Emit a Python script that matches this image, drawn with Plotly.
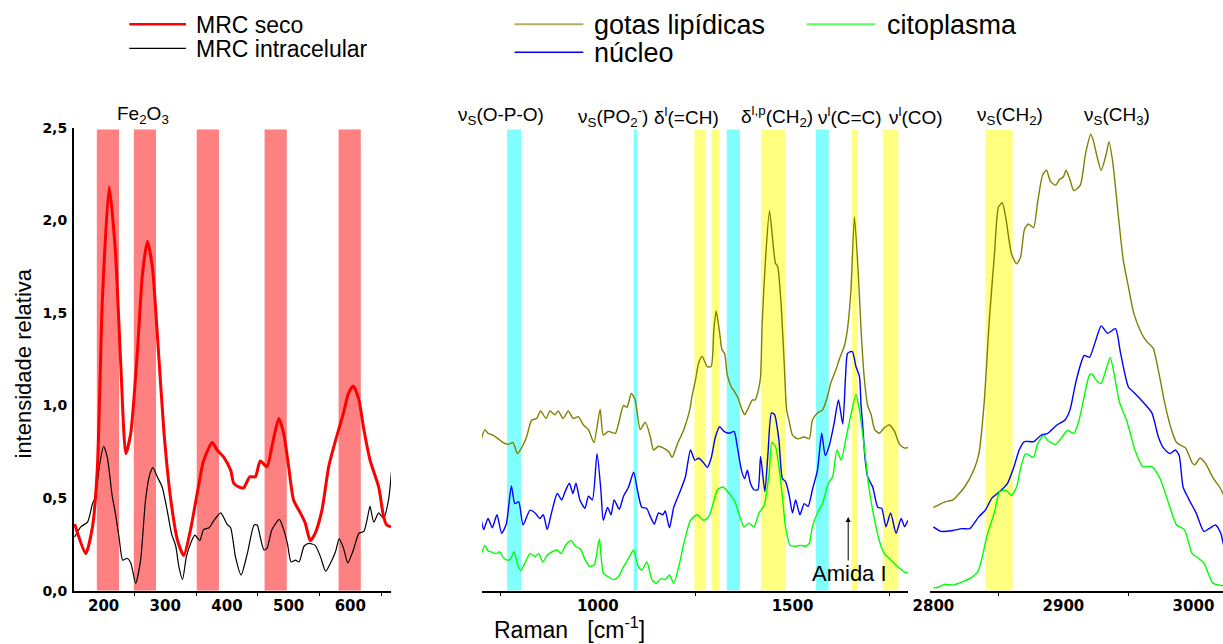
import plotly.graph_objects as go

# ---------------- data ----------------
seco_x = [153, 171, 182, 190, 198, 209, 219, 228, 236, 244, 255, 263, 271, 279, 287, 298, 309, 320, 330,
          341, 352, 362, 376, 384, 395, 406, 411, 419, 427, 437, 446, 454, 465, 473, 484, 492, 500, 508,
          519, 527, 535, 543, 554, 565, 576, 589, 597, 605, 614, 622, 632, 646, 654, 659, 666]
seco_y = [0.36, 0.20, 0.345, 0.67, 1.57, 2.18, 1.84, 1.21, 0.74, 0.85, 1.30, 1.71, 1.885, 1.75, 1.39, 0.85,
          0.49, 0.27, 0.19, 0.33, 0.53, 0.70, 0.80, 0.76, 0.72, 0.65, 0.58, 0.56, 0.555, 0.615, 0.615, 0.70,
          0.67, 0.78, 0.93, 0.85, 0.67, 0.49, 0.42, 0.365, 0.27, 0.31, 0.435, 0.67, 0.81, 0.96, 1.065, 1.105,
          1.03, 0.87, 0.705, 0.56, 0.40, 0.355, 0.345]

intra_x = [153, 163, 174, 182, 187, 193, 200, 206, 214, 219, 225, 231, 238, 244, 252, 260, 268, 275, 280,
           287, 295, 303, 310, 317, 322, 328, 334, 341, 348, 356, 362, 371, 379, 390, 400, 406, 414, 423,
           433, 444, 449, 454, 460, 465, 473, 485, 492, 498, 504, 511, 517, 525, 533, 543, 552, 560, 568,
           576, 582, 589, 596, 605, 614, 622, 627, 632, 638, 646, 654, 662, 667]
intra_y = [0.29, 0.345, 0.37, 0.47, 0.51, 0.67, 0.78, 0.72, 0.51, 0.42, 0.29, 0.165, 0.175, 0.15, 0.04,
           0.165, 0.49, 0.63, 0.665, 0.615, 0.56, 0.435, 0.31, 0.24, 0.13, 0.06, 0.18, 0.255, 0.30, 0.27,
           0.33, 0.34, 0.38, 0.42, 0.36, 0.34, 0.18, 0.085, 0.20, 0.355, 0.355, 0.29, 0.22, 0.23, 0.33,
           0.385, 0.33, 0.255, 0.155, 0.165, 0.155, 0.24, 0.255, 0.245, 0.18, 0.105, 0.15, 0.21, 0.28, 0.23,
           0.15, 0.22, 0.31, 0.32, 0.38, 0.455, 0.37, 0.42, 0.39, 0.49, 0.65]

lip_x = [701, 710, 718, 731, 744, 757, 770, 782, 794, 804, 817, 830, 843, 853, 867, 877, 890, 898, 911,
         924, 937, 950, 963, 976, 990, 1006, 1014, 1027, 1045, 1053, 1066, 1075, 1086, 1096, 1109, 1122,
         1135, 1143, 1156, 1169, 1182, 1191, 1204, 1221, 1236, 1242, 1251, 1259, 1268, 1281, 1291, 1298,
         1304, 1313, 1319, 1326, 1332, 1343, 1351, 1360, 1371, 1377, 1384, 1397, 1404, 1412, 1418, 1422,
         1431, 1441, 1456, 1462, 1470, 1478, 1485, 1491, 1500, 1513, 1530, 1543, 1551, 1564, 1577, 1590,
         1598, 1611, 1622, 1633, 1641, 1650, 1659, 1669, 1676, 1684, 1693, 1702, 1711, 1723, 1736, 1749,
         1762, 1775, 1788, 1800]
lip_y = [0.82, 0.87, 0.85, 0.84, 0.82, 0.80, 0.79, 0.80, 0.74, 0.77, 0.83, 0.92, 0.93, 0.97, 0.93, 0.97,
         0.95, 0.97, 0.93, 0.97, 0.93, 0.94, 0.895, 0.87, 0.80, 0.98, 0.84, 0.86, 0.85, 0.90, 1.00, 0.99,
         1.065, 1.03, 0.87, 0.91, 0.83, 0.76, 0.78, 0.77, 0.75, 0.72, 0.79, 0.87, 0.975, 1.05, 1.14, 1.23,
         1.265, 1.21, 1.21, 1.41, 1.51, 1.39, 1.30, 1.28, 1.17, 1.10, 1.075, 1.04, 0.975, 0.95, 0.975, 1.03,
         1.03, 1.08, 1.155, 1.44, 1.80, 2.05, 1.77, 1.75, 1.57, 1.26, 0.975, 0.92, 0.84, 0.82, 0.83, 0.82,
         0.92, 0.96, 0.975, 1.05, 1.12, 1.19, 1.26, 1.32, 1.41, 1.62, 2.02, 1.71, 1.41, 1.155, 1.0, 0.95,
         0.87, 0.85, 0.88, 0.895, 0.86, 0.79, 0.77, 0.775]

nuc_x = [701, 707, 718, 729, 741, 753, 765, 778, 787, 797, 808, 826, 839, 851, 860, 870, 881, 896, 907,
         916, 927, 936, 944, 954, 967, 976, 986, 998, 1008, 1014, 1025, 1034, 1042, 1055, 1066, 1079, 1092,
         1102, 1113, 1125, 1135, 1145, 1156, 1167, 1173, 1184, 1195, 1212, 1225, 1238, 1249, 1259, 1272,
         1281, 1291, 1302, 1313, 1324, 1337, 1350, 1358, 1369, 1377, 1384, 1392, 1401, 1411, 1418, 1429,
         1437, 1446, 1454, 1465, 1474, 1482, 1491, 1500, 1508, 1519, 1530, 1540, 1551, 1564, 1575, 1584,
         1594, 1607, 1618, 1629, 1636, 1641, 1647, 1654, 1663, 1672, 1676, 1680, 1686, 1693, 1706, 1719,
         1729, 1740, 1752, 1766, 1779, 1788, 1797, 1804]
nuc_y = [0.38, 0.33, 0.39, 0.34, 0.41, 0.31, 0.36, 0.565, 0.47, 0.48, 0.355, 0.435, 0.42, 0.39, 0.41, 0.33,
         0.42, 0.525, 0.49, 0.535, 0.58, 0.525, 0.58, 0.49, 0.445, 0.51, 0.49, 0.74, 0.54, 0.38, 0.45, 0.41,
         0.49, 0.44, 0.51, 0.56, 0.64, 0.54, 0.45, 0.445, 0.40, 0.36, 0.42, 0.41, 0.43, 0.34, 0.45, 0.54,
         0.615, 0.76, 0.705, 0.715, 0.69, 0.665, 0.715, 0.83, 0.885, 0.86, 0.85, 0.86, 0.78, 0.65, 0.605,
         0.65, 0.58, 0.545, 0.545, 0.725, 0.535, 0.74, 0.96, 0.95, 0.815, 0.605, 0.59, 0.52, 0.42, 0.49,
         0.41, 0.47, 0.455, 0.545, 0.65, 0.85, 0.73, 0.78, 0.905, 1.03, 0.90, 1.15, 1.28, 1.29, 1.29, 1.21,
         1.155, 1.0, 0.9, 0.72, 0.615, 0.56, 0.45, 0.445, 0.345, 0.42, 0.31, 0.39, 0.345, 0.38, 0.355]

cit_x = [701, 710, 718, 726, 739, 748, 757, 767, 775, 785, 794, 802, 813, 826, 839, 848, 859, 869, 882,
         895, 906, 917, 926, 933, 942, 955, 968, 979, 991, 1004, 1014, 1027, 1040, 1053, 1066, 1079, 1092,
         1102, 1113, 1126, 1139, 1150, 1162, 1173, 1184, 1195, 1208, 1221, 1238, 1255, 1272, 1285, 1296,
         1307, 1322, 1337, 1350, 1362, 1375, 1388, 1401, 1414, 1427, 1440, 1447, 1456, 1465, 1474, 1482,
         1494, 1508, 1521, 1534, 1543, 1551, 1564, 1577, 1592, 1603, 1614, 1625, 1638, 1651, 1663, 1672,
         1684, 1697, 1711, 1723, 1736, 1753, 1770, 1788, 1804]
cit_y = [0.20, 0.245, 0.215, 0.21, 0.20, 0.21, 0.18, 0.165, 0.17, 0.21, 0.14, 0.11, 0.15, 0.20, 0.185, 0.20,
         0.155, 0.19, 0.21, 0.22, 0.20, 0.245, 0.265, 0.27, 0.24, 0.225, 0.165, 0.13, 0.14, 0.28, 0.095,
         0.075, 0.06, 0.075, 0.13, 0.175, 0.22, 0.14, 0.11, 0.155, 0.06, 0.04, 0.065, 0.06, 0.085, 0.04,
         0.13, 0.255, 0.38, 0.41, 0.38, 0.40, 0.47, 0.545, 0.56, 0.525, 0.49, 0.42, 0.345, 0.365, 0.345,
         0.42, 0.46, 0.635, 0.80, 0.78, 0.67, 0.51, 0.345, 0.245, 0.24, 0.245, 0.24, 0.255, 0.345, 0.42,
         0.47, 0.58, 0.615, 0.76, 0.705, 0.83, 0.96, 1.06, 0.975, 0.78, 0.545, 0.38, 0.27, 0.20, 0.165,
         0.13, 0.10, 0.095]

ch_lip_x = [2800, 2809, 2815, 2824, 2831, 2835, 2839, 2843, 2847, 2850, 2853, 2856, 2860, 2864, 2867, 2870,
            2873, 2877, 2880, 2884, 2887, 2890, 2894, 2897, 2900, 2902, 2905, 2908, 2913, 2917, 2921, 2923,
            2926, 2929, 2933, 2935, 2938, 2942, 2946, 2950, 2954, 2960, 2964, 2969, 2973, 2978, 2983, 2987,
            2994, 2999, 3001, 3005, 3009, 3015, 3020, 3026]
ch_lip_y = [0.45, 0.48, 0.49, 0.56, 0.65, 0.74, 1.01, 1.46, 1.82, 2.07, 2.095, 2.00, 1.82, 1.765, 1.80, 1.95,
            1.98, 1.96, 2.09, 2.245, 2.27, 2.21, 2.19, 2.22, 2.235, 2.27, 2.22, 2.16, 2.19, 2.36, 2.465, 2.43,
            2.34, 2.27, 2.36, 2.425, 2.31, 2.04, 1.785, 1.64, 1.50, 1.39, 1.345, 1.31, 1.19, 1.01, 0.87, 0.80,
            0.77, 0.69, 0.68, 0.715, 0.69, 0.61, 0.56, 0.48]

ch_nuc_x = [2800, 2806, 2815, 2822, 2828, 2835, 2840, 2845, 2851, 2857, 2862, 2866, 2870, 2877, 2883, 2888,
            2895, 2901, 2905, 2910, 2916, 2920, 2925, 2929, 2934, 2940, 2944, 2950, 2955, 2961, 2968, 2973,
            2977, 2982, 2986, 2989, 2992, 2996, 3002, 3008, 3012, 3017, 3021, 3024, 3027]
ch_nuc_y = [0.345, 0.32, 0.325, 0.335, 0.335, 0.40, 0.435, 0.50, 0.535, 0.58, 0.67, 0.76, 0.805, 0.805,
            0.84, 0.85, 0.895, 0.92, 0.975, 1.14, 1.27, 1.26, 1.355, 1.43, 1.39, 1.415, 1.28, 1.10, 1.065,
            1.02, 0.96, 0.83, 0.77, 0.74, 0.76, 0.73, 0.56, 0.50, 0.42, 0.32, 0.335, 0.355, 0.31, 0.23, 0.22]

ch_cit_x = [2800, 2804, 2809, 2815, 2823, 2830, 2834, 2837.5, 2841, 2847, 2851, 2856, 2860, 2864, 2867, 2871,
            2877, 2880, 2885, 2888, 2894, 2899, 2903, 2908, 2912, 2916, 2920, 2922, 2926, 2929, 2933, 2936,
            2939, 2943, 2949, 2955, 2961, 2968, 2974, 2981, 2987, 2993, 2999, 3004, 3008, 3015, 3020, 3026]
ch_cit_y = [0.015, 0.02, 0.035, 0.03, 0.05, 0.075, 0.10, 0.18, 0.29, 0.425, 0.535, 0.54, 0.515, 0.56, 0.66,
            0.74, 0.72, 0.79, 0.84, 0.81, 0.79, 0.83, 0.865, 0.85, 0.92, 1.05, 1.165, 1.17, 1.13, 1.12, 1.20,
            1.26, 1.17, 1.02, 0.91, 0.76, 0.67, 0.67, 0.61, 0.47, 0.355, 0.33, 0.20, 0.175, 0.15, 0.04, 0.03,
            0.025]

fe_bands = [(189, 225), (249, 285), (351, 387), (461, 497), (581, 617)]
mid_cyan_bands = [(767, 803), (1092, 1101), (1331, 1365), (1560, 1593)]
mid_yellow_bands = [(1248, 1277), (1292, 1312), (1419, 1482), (1653, 1667), (1732, 1772)]
ch_yellow_bands = [(2840, 2861)]
band_top = 2.49

left_ticks = [200, 300, 400, 500, 600]
left_minor = [250, 350, 450, 550, 650]
mid_ticks = [1000, 1500]
mid_minor = [750, 1250, 1750]
right_ticks = [2800, 2900, 3000]
right_minor = [2850, 2950]
y_ticks = [0, 0.5, 1.0, 1.5, 2.0, 2.5]

# ---------------- figure ----------------
W, H = 1223, 644
FONT = "Liberation Sans, Arial, sans-serif"
TICKFONT = "DejaVu Sans, Liberation Sans, sans-serif"
RED, BLACK, OLIVE, BLUE, GREEN = "#ff0000", "#000000", "#808000", "#0000ff", "#00ff00"
C_RED, C_CYAN, C_YEL = "#ff8080", "#80ffff", "#ffff80"


def px(x):
    return x / W


def py(y):
    return 1 - y / H


def bold(labels):
    return ["<b>%s</b>" % s if s else "" for s in labels]


fig = go.Figure()


def add_line(x, y, color, width, xa, ya):
    fig.add_trace(go.Scatter(x=x, y=y, mode="lines", xaxis=xa, yaxis=ya, showlegend=False,
                             line=dict(color=color, width=width, shape="spline", smoothing=0.6),
                             hoverinfo="skip"))


add_line(intra_x, intra_y, BLACK, 1.2, "x", "y")
add_line(seco_x, seco_y, RED, 3, "x", "y")
add_line(lip_x, lip_y, OLIVE, 1.4, "x2", "y2")
add_line(nuc_x, nuc_y, BLUE, 1.4, "x2", "y2")
add_line(cit_x, cit_y, GREEN, 1.4, "x2", "y2")
add_line(ch_lip_x, ch_lip_y, OLIVE, 1.4, "x3", "y3")
add_line(ch_nuc_x, ch_nuc_y, BLUE, 1.4, "x3", "y3")
add_line(ch_cit_x, ch_cit_y, GREEN, 1.4, "x3", "y3")

shapes = []
for (a, b) in fe_bands:
    shapes.append(dict(type="rect", xref="x", yref="y", x0=a, x1=b, y0=0, y1=band_top,
                       fillcolor=C_RED, line=dict(width=0), layer="below"))
for (a, b) in mid_cyan_bands:
    shapes.append(dict(type="rect", xref="x2", yref="y2", x0=a, x1=b, y0=0, y1=band_top,
                       fillcolor=C_CYAN, line=dict(width=0), layer="below"))
for (a, b) in mid_yellow_bands:
    shapes.append(dict(type="rect", xref="x2", yref="y2", x0=a, x1=b, y0=0, y1=band_top,
                       fillcolor=C_YEL, line=dict(width=0), layer="below"))
for (a, b) in ch_yellow_bands:
    shapes.append(dict(type="rect", xref="x3", yref="y3", x0=a, x1=b, y0=0, y1=band_top,
                       fillcolor=C_YEL, line=dict(width=0), layer="below"))

# legend lines (paper coords)
legend_lines = [(129.3, 186, 24.3, RED, 2.5), (129.3, 186, 48.3, BLACK, 1.2),
                (514.5, 583.3, 24.2, "#b0b060", 2), (514.5, 583.3, 52.3, BLUE, 1.5),
                (806.5, 875.3, 24.2, "#60ff60", 2)]
for (x0, x1, yy, c, w) in legend_lines:
    shapes.append(dict(type="line", xref="paper", yref="paper", x0=px(x0), x1=px(x1),
                       y0=py(yy), y1=py(yy), line=dict(color=c, width=w)))

ann = []


def text(x, y, s, size, xanchor="center", angle=0, family=FONT, yanchor="middle"):
    ann.append(dict(xref="paper", yref="paper", x=px(x), y=py(y), text=s, showarrow=False,
                    xanchor=xanchor, yanchor=yanchor, textangle=angle, borderpad=0,
                    font=dict(family=family, size=size, color="black")))


# legend texts
text(195, 24.5, "MRC seco", 23, "left")
text(195, 48.5, "MRC intracelular", 23, "left")
text(593, 25, "gotas lipídicas", 27, "left")
text(593, 52.5, "núcleo", 27, "left")
text(885.7, 25, "citoplasma", 27, "left")

# band labels
text(143.3, 115, "Fe<sub>2</sub>O<sub>3</sub>", 19)
text(500.8, 116, "ν<sub>S</sub>(O-P-O)", 19)
text(613.3, 116, "ν<sub>S</sub>(PO<sub>2</sub><sup>-</sup>)", 19)
text(686.7, 116, "δ<sup>l</sup>(=CH)", 19)
text(776.7, 116, "δ<sup>l,p</sup>(CH<sub>2</sub>)", 19)
text(849.7, 116, "ν<sup>l</sup>(C=C)", 19)
text(915.8, 116, "ν<sup>l</sup>(CO)", 19)
text(1010, 116, "ν<sub>S</sub>(CH<sub>2</sub>)", 19)
text(1116.7, 116, "ν<sub>S</sub>(CH<sub>3</sub>)", 19)

# axis titles
text(22.5, 364, "intensidade relativa", 22, "center", -90)
text(569, 644, "Raman&nbsp;&nbsp;&nbsp;[cm<sup>-1</sup>]", 23, "center", yanchor="bottom")

# Amida I
text(849, 573, "Amida I", 22)
ann.append(dict(xref="x2", yref="y2", x=1643, y=0.398, ax=0, ay=45, axref="pixel", ayref="pixel",
                text="", showarrow=True, arrowhead=2, arrowsize=1, arrowwidth=1, arrowcolor="black"))

tickfont = dict(family=TICKFONT, size=15, color="black", weight="bold")
ytickfont = dict(family=TICKFONT, size=14, color="black", weight="bold")
ydom = [1 - 590.7 / H, 1 - 127.7 / H]


def xaxis_cfg(domain, rng, anchor, major, minor):
    return dict(domain=domain, range=rng, anchor=anchor, tickvals=major,
                ticktext=bold([str(v) for v in major]),
                showline=True, linecolor="black", linewidth=2, showgrid=False, zeroline=False,
                ticks="", tickfont=tickfont, automargin=False, fixedrange=True, ticklabelstandoff=0,
                minor=dict(tickvals=minor, ticks="outside", ticklen=3, tickwidth=1, tickcolor="black",
                           showgrid=False))


fig.update_layout(
    width=W, height=H, autosize=False,
    margin=dict(l=0, r=0, t=0, b=0, pad=0),
    paper_bgcolor="white", plot_bgcolor="rgba(0,0,0,0)",
    separators=",.",
    font=dict(family=FONT, color="black"),
    showlegend=False,
    shapes=shapes, annotations=ann,
    xaxis=xaxis_cfg([74 / W, 391 / W], [152, 666], "y", left_ticks, left_minor),
    yaxis=dict(domain=ydom, range=[0, 2.5], anchor="x", showline=True, linecolor="black", linewidth=2,
               showgrid=False, zeroline=False, ticks="", tickvals=y_ticks,
               ticktext=bold([("%.1f" % v).replace(".", ",") for v in y_ticks]),
               tickfont=ytickfont, automargin=False, fixedrange=True, ticklabelstandoff=2),
    xaxis2=xaxis_cfg([482 / W, 908 / W], [702.6, 1796.6], "y2", mid_ticks, mid_minor),
    yaxis2=dict(domain=ydom, range=[0, 2.5], anchor="x2", visible=False, fixedrange=True),
    xaxis3=xaxis_cfg([930 / W, 1.0], [2797.4, 3022.7], "y3", right_ticks, right_minor),
    yaxis3=dict(domain=ydom, range=[0, 2.5], anchor="x3", visible=False, fixedrange=True),
)

fig.write_html("out.html")
